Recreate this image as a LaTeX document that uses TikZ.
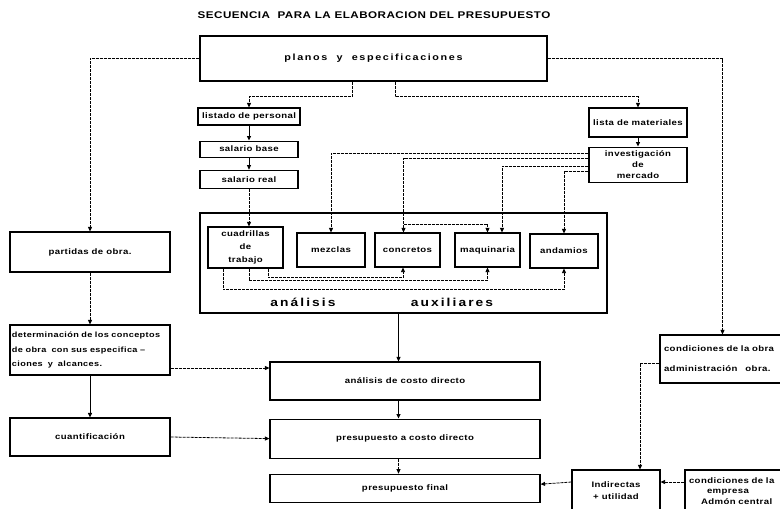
\documentclass[tikz,border=0pt]{standalone}
\usepackage{fontspec}
\setmainfont{Liberation Sans}[FakeStretch=1.2, LetterSpace=5]
\newfontfamily\widefont{Liberation Sans}[FakeStretch=1.2, LetterSpace=18]
\usetikzlibrary{positioning, arrows.meta}

\begin{document}
\begin{tikzpicture}[
        x=1pt, y=-1pt,
        >={Triangle[length=4.5pt,width=4pt]},
        box/.style={
            draw,
            line width=1.1pt,
            inner sep=2pt,
            font=\fontsize{8}{9.5}\selectfont\bfseries,
            align=center
        },
        frame/.style={draw, line width=2.4pt, inner sep=0pt},
        lbl/.style={font=\widefont\fontsize{11.5}{13}\selectfont\bfseries},
        conn/.style={->, line width=0.8pt, dash pattern=on 3pt off 1pt},
        link/.style={->, line width=0.9pt}
    ]
        \useasboundingbox (0,0) rectangle (780,509);
        \clip (0,0) rectangle (780,509);

        % Title and source box
        \node[font=\fontsize{9.7}{11}\selectfont\bfseries] (title) at (374,15)
            {SECUENCIA\ \ PARA LA ELABORACION DEL PRESUPUESTO};
        \node[box, minimum width=347pt, minimum height=45pt,
              font=\widefont\fontsize{9}{11}\selectfont\bfseries] (planos) at (373.5,58.5)
            {planos\ \ y\ \ especificaciones};

        % Personnel chain
        \node[box, minimum width=102pt, minimum height=17pt] (listado) at (249,116.5) {listado de personal};
        \node[box, minimum width=98pt, minimum height=16pt, below=15pt of listado] (salbase) {salario base};
        \node[box, minimum width=98pt, minimum height=18pt, below=12pt of salbase] (salreal) {salario real};

        % Materials chain
        \node[box, minimum width=98pt, minimum height=29pt] (lista) at (638,122.5) {lista de materiales};
        \node[box, minimum width=98pt, minimum height=35pt, below=9pt of lista,
              font=\fontsize{8}{11}\selectfont\bfseries] (invest) {investigación\\de\\mercado};

        % Auxiliary analysis frame
        \node[frame, minimum width=407pt, minimum height=100pt] (aux) at (403.5,263) {};
        \node[box, minimum width=75pt, minimum height=41pt,
              font=\fontsize{8}{13}\selectfont\bfseries] (cuadr) at (245.5,247.5) {cuadrillas\\de\\trabajo};
        \node[box, minimum width=68pt, minimum height=34pt] (mezclas) at (331,250) {mezclas};
        \node[box, minimum width=65pt, minimum height=34pt] (concretos) at (407.5,250) {concretos};
        \node[box, minimum width=65pt, minimum height=34pt] (maquinaria) at (487.5,250) {maquinaria};
        \node[box, minimum width=68pt, minimum height=34pt] (andamios) at (564,251) {andamios};
        \node[lbl] (lbla) at (303,302) {análisis};
        \node[lbl] (lblb) at (452,302) {auxiliares};

        % Left column
        \node[box, minimum width=160pt, minimum height=40pt] (partidas) at (90,252) {partidas de obra.};
        \node[box, minimum height=50pt, text width=156pt, inner xsep=2pt, align=left,
              font=\fontsize{7.6}{14.5}\selectfont\bfseries] (determ) at (90,350)
            {determinación de los conceptos\\de obra\ \ con sus especifica --\\ciones\ \ y\ \ alcances.};
        \node[box, minimum width=160pt, minimum height=38pt] (cuant) at (90,437) {cuantificación};

        % Central column
        \node[box, minimum width=270pt, minimum height=38pt] (costo) at (405,381) {análisis de costo directo};
        \node[box, minimum width=270pt, minimum height=39pt, below=18pt of costo] (prescd) {presupuesto a costo directo};
        \node[box, minimum width=270pt, minimum height=28pt, below=15pt of prescd] (final) {presupuesto final};

        % Right column
        \node[box, minimum height=48pt, text width=117pt, inner xsep=4pt, align=left,
              font=\fontsize{8}{20}\selectfont\bfseries] (condobra) at (722.5,359)
            {condiciones de la obra\\administración\quad obra.};
        \node[box, minimum width=88pt, minimum height=42pt,
              font=\fontsize{8}{12}\selectfont\bfseries] (indirect) at (616,491) {Indirectas\\+ utilidad};
        \node[box, minimum height=42pt, text width=97pt, inner xsep=4pt, align=left,
              font=\fontsize{8}{10.5}\selectfont\bfseries] (condemp) at (737.5,491)
            {condiciones de la\\\hspace*{18pt}empresa\\\hspace*{12pt}Admón central};

        % Connections from the source box
        \draw[conn] (planos.west) -| (partidas.north);
        \draw[conn] (planos.east) -| (condobra.north);
        \draw[conn] ([xshift=-21.5pt]planos.south) -- ++(0,15) -| (listado.north);
        \draw[conn] ([xshift=21.5pt]planos.south) -- ++(0,15) -| (lista.north);

        % Personnel and materials
        \draw[link] (listado) -- (salbase);
        \draw[link] (salbase) -- (salreal);
        \draw[conn] (salreal.south) -- (salreal.south |- cuadr.north);
        \draw[link] (lista) -- (invest);
        \draw[conn] ([yshift=11.5pt]invest.west) -| (mezclas.north);
        \draw[conn] ([yshift=6.5pt]invest.west) -| ([xshift=-4pt]concretos.north);
        \draw[conn] ([xshift=-4pt,yshift=8pt]concretos.north) -| (maquinaria.north);
        \draw[conn] ([yshift=-1.5pt]invest.west) -| ([xshift=14.5pt]maquinaria.north);
        \draw[conn] ([yshift=-6.5pt]invest.west) -| (andamios.north);

        % Crew analysis feeding the other auxiliaries
        \draw[conn] ([xshift=22.5pt]cuadr.south) -- ++(0,9) -| ([xshift=-4.5pt]concretos.south);
        \draw[conn] ([xshift=3.5pt]cuadr.south) -- ++(0,12) -| (maquinaria.south);
        \draw[conn] ([xshift=-22.5pt]cuadr.south) -- ++(0,21) -| (andamios.south);

        % Toward the final budget
        \draw[link] ([xshift=-5pt]aux.south) -- ([xshift=-6.5pt]costo.north);
        \draw[link] ([xshift=-6.5pt]costo.south) -- ([xshift=-6.5pt]prescd.north);
        \draw[conn] ([xshift=-6.5pt]prescd.south) -- ([xshift=-6.5pt]final.north);
        \draw[conn] (partidas) -- (determ);
        \draw[link] (determ) -- (cuant);
        \draw[conn] ([yshift=-18pt]determ.east) -- ([yshift=13pt]costo.west);
        \draw[conn] (cuant.east) -- (prescd.west);

        % Indirect costs
        \draw[conn] ([yshift=-4pt]condobra.west) -| ([xshift=24pt]indirect.north);
        \draw[conn] ([yshift=9pt]condemp.west) -- ([yshift=9pt]indirect.east);
        \draw[conn] ([yshift=9pt]indirect.west) -- ([yshift=4pt]final.east);
    \end{tikzpicture}
\end{document}
